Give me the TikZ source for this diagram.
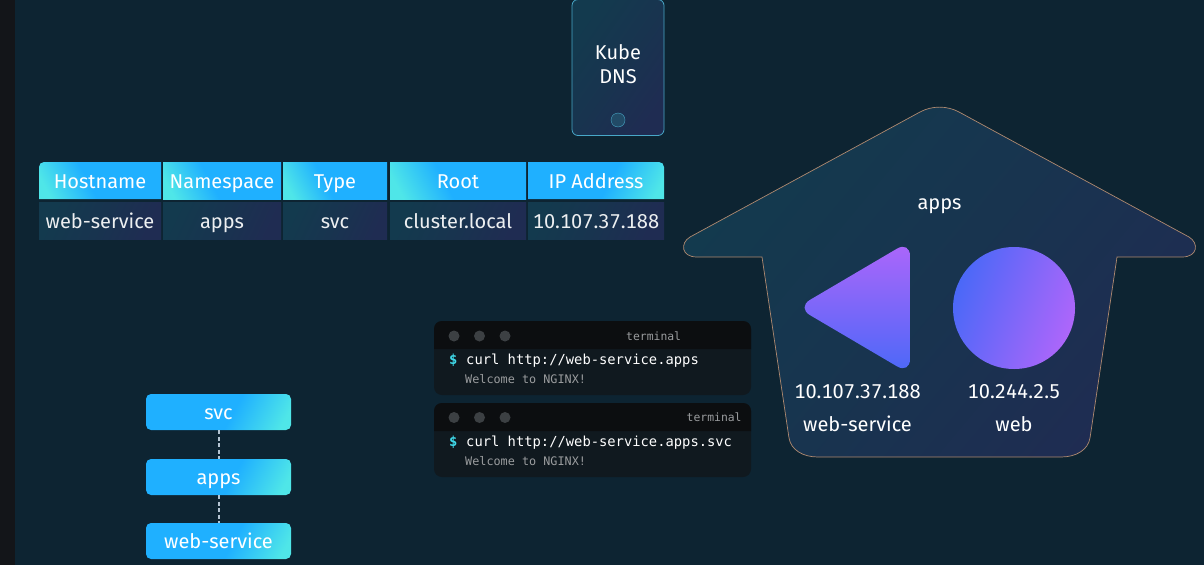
\documentclass[tikz,border=0pt]{standalone}
\usepackage{fontspec}
\setmainfont[Numbers={Lining,Monospaced}]{Fira Sans}
\newfontfamily\termfont{DejaVu Sans Mono}
\usetikzlibrary{positioning}

\definecolor{pagebg}{HTML}{0D2432}
\definecolor{stripbg}{HTML}{131519}
\definecolor{hdrcyan}{HTML}{4FE6E8}
\definecolor{hdrblue}{HTML}{1FB0FF}
\definecolor{navya}{HTML}{133A4E}
\definecolor{navyb}{HTML}{18344F}
\definecolor{navyc}{HTML}{1F2C52}
\definecolor{violeta}{HTML}{4A68F8}
\definecolor{violetb}{HTML}{AE66FA}
\definecolor{kubeline}{HTML}{48A8C8}
\definecolor{houseline}{HTML}{B08A70}
\definecolor{termhead}{HTML}{0C0E10}
\definecolor{termbody}{HTML}{10191F}
\definecolor{termdot}{HTML}{3C4043}
\definecolor{termgrey}{HTML}{9A9C9E}
\definecolor{termcyan}{HTML}{3FD8E8}
\definecolor{linkgrey}{HTML}{B4C4D2}

\pgfdeclarehorizontalshading{cyanblue}{100bp}{color(0bp)=(hdrcyan); color(22bp)=(hdrcyan); color(44bp)=(hdrblue); color(100bp)=(hdrblue)}
\pgfdeclarehorizontalshading{bluecyan}{100bp}{color(0bp)=(hdrblue); color(56bp)=(hdrblue); color(79bp)=(hdrcyan); color(100bp)=(hdrcyan)}
\pgfdeclarehorizontalshading{navyfade}{100bp}{color(0bp)=(navya); color(25bp)=(navya); color(50bp)=(navyb); color(75bp)=(navyc); color(100bp)=(navyc)}
\pgfdeclarehorizontalshading{violetfade}{100bp}{color(0bp)=(violeta); color(25bp)=(violeta); color(75bp)=(violetb); color(100bp)=(violetb)}

\begin{document}
\begin{tikzpicture}[x=1pt,y=-1pt,
    label text/.style={text=white,font=\fontsize{20}{24}\selectfont,text height=20pt,text depth=5pt,inner sep=0pt,outer sep=0pt},
    hdr left/.style={shading=cyanblue,shading angle=28},
    hdr right/.style={shading=bluecyan,shading angle=-28},
    hdr cell/.style={label text,minimum height=37pt,hdr left},
    row cell/.style={label text,text=white!92!navyb,minimum height=37pt,shading=navyfade,shading angle=-25},
    svc box/.style={label text,minimum width=145pt,minimum height=36pt,rounded corners=5pt,hdr right},
    dash link/.style={draw=linkgrey,line width=2pt,dash pattern=on 4pt off 2.5pt},
    term dot/.style={circle,fill=termdot,minimum size=11pt,inner sep=0pt,outer sep=0pt},
    term box/.style={fill=termbody,rounded corners=8pt,minimum width=317pt,minimum height=74pt,inner sep=0pt,outer sep=0pt},
    term title/.style={text=termgrey,font=\termfont\fontsize{11.4}{14}\selectfont,inner sep=0pt,anchor=base west},
    term cmd/.style={text=white,font=\termfont\fontsize{13.8}{16}\selectfont,inner sep=0pt,anchor=base west},
    term out/.style={text=termgrey,font=\termfont\fontsize{11.8}{14}\selectfont,inner sep=0pt,anchor=base west},
    ]
    \useasboundingbox (0,0) rectangle (1204,565);
    \fill[pagebg] (0,0) rectangle (1204,565);
    \fill[stripbg] (0,0) rectangle (15,565);

    % kube dns box
    \node[draw=kubeline,line width=.8pt,rounded corners=6pt,shading=navyfade,shading angle=-35,minimum width=92pt,minimum height=136pt,inner sep=0pt] (kube) at (618,67.5) {};
    \node[text=white,font=\fontsize{20}{24}\selectfont,align=center,inner sep=0pt] (kubetext) at (618,64) {Kube\\DNS};
    \node[circle,draw=kubeline,fill=navyb!80!kubeline,minimum size=14pt,inner sep=0pt] (kubeport) at (618,120) {};

    % table header
    \path[hdr left] (39,199) [rounded corners=5pt] -- (39,162) [sharp corners] -- (161,162) -- (161,199) -- cycle;
    \path[hdr right] (528,199) -- (528,162) [rounded corners=5pt] -- (664,162) [sharp corners] -- (664,199) -- cycle;
    \node[label text,minimum width=122pt,minimum height=37pt] (host) at (100,180.5) {Hostname};
    \node[hdr cell,minimum width=118pt] (nspace) [right = 2pt of host] {Namespace};
    \node[hdr cell,minimum width=104pt] (type) [right = 2pt of nspace] {Type};
    \node[hdr cell,minimum width=136pt] (root) [right = 3pt of type] {Root};
    \node[label text,minimum width=136pt,minimum height=37pt] (ipaddr) [right = 2pt of root] {IP Address};

    % table row
    \node[row cell,minimum width=122pt] (hostval) [below = 3pt of host] {web-service};
    \node[row cell,minimum width=118pt] (nsval) [below = 3pt of nspace] {apps};
    \node[row cell,minimum width=104pt] (typeval) [below = 3pt of type] {svc};
    \node[row cell,minimum width=136pt] (rootval) [below = 3pt of root] {cluster.local};
    \node[row cell,minimum width=136pt] (ipval) [below = 3pt of ipaddr] {10.107.37.188};

    % name parts
    \node[svc box] (svc) at (218.5,412) {svc};
    \node[svc box] (apps) [below = 29pt of svc] {apps};
    \node[svc box] (web) [below = 28pt of apps] {web-service};
    \draw[dash link] (svc) -- (apps);
    \draw[dash link] (apps) -- (web);

    % terminals
    \node[term box] (termone) at (592.5,358) {};
    \fill[termhead] (termone.west |- 0,349) [rounded corners=8pt] -- (termone.north west) -- (termone.north east) [sharp corners] -- (termone.east |- 0,349) -- cycle;
    \node[term dot] (dota) at (454,336) {};
    \node[term dot] (dotb) [right = 14.5pt of dota] {};
    \node[term dot] (dotc) [right = 14.5pt of dotb] {};
    \node[term title] (titleone) at (626,340) {terminal};
    \node[term cmd,text=termcyan] (promptone) at (449,364) {\bfseries\$};
    \node[term cmd] (cmdone) at (466,364) {curl http://web-service.apps};
    \node[term out] (outone) at (465,383) {Welcome to NGINX!};

    \node[term box] (termtwo) at (592.5,440) {};
    \fill[termhead] (termtwo.west |- 0,431) [rounded corners=8pt] -- (termtwo.north west) -- (termtwo.north east) [sharp corners] -- (termtwo.east |- 0,431) -- cycle;
    \node[term dot] (dotd) at (454,417.5) {};
    \node[term dot] (dote) [right = 14.5pt of dotd] {};
    \node[term dot] (dotf) [right = 14.5pt of dote] {};
    \node[term title] (titletwo) at (686.5,421) {terminal};
    \node[term cmd,text=termcyan] (prompttwo) at (449,446) {\bfseries\$};
    \node[term cmd] (cmdtwo) at (466,446) {curl http://web-service.apps.svc};
    \node[term out] (outtwo) at (465,465) {Welcome to NGINX!};

    % namespace house
    \draw[houseline,line width=.7pt,shading=navyfade,shading angle=-40]
    (920,112) .. controls (932,105.5) and (947,105.5) .. (959,112)
    -- (1189,237) .. controls (1199,243) and (1198,257) .. (1182,257)
    -- (1117,257) -- (1090,438) .. controls (1088,450) and (1076,457) .. (1061,457)
    -- (818,457) .. controls (803,457) and (791,450) .. (789,438)
    -- (762,257) -- (697,257) .. controls (681,257) and (680,243) .. (690,237) -- cycle;

    \node[label text] (appsname) at (939.5,202) {apps};
    \path[shading=violetfade,shading angle=90] (910,307.5) [rounded corners=15pt] -- (910,241) -- (797,307.5) -- (910,374) [sharp corners] -- cycle;
    \node[circle,minimum size=122pt,inner sep=0pt,shading=violetfade,shading angle=-20] (pod) at (1014,308) {};

    \node[label text] (svcip) at (857.5,391) {10.107.37.188};
    \node[label text] (svcname) [below = 8pt of svcip] {web-service};
    \node[label text] (podip) at (1014,391) {10.244.2.5};
    \node[label text] (podname) [below = 8pt of podip] {web};
\end{tikzpicture}
\end{document}
